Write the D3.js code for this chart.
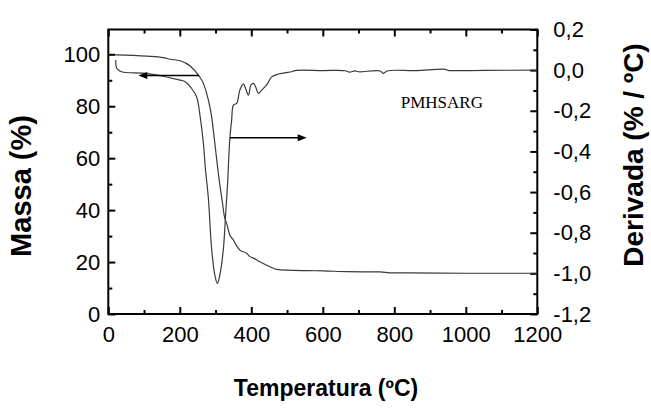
<!DOCTYPE html>
<meta charset="utf-8">
<style type="text/css">

body { margin: 0; background: #fff; }

svg { background-color: #fff; }

.axis line {
  stroke: #000;
  stroke-width: 2;
}

.axis text {
  font-family: "Liberation Sans", Arial, sans-serif;
  font-size: 22px;
  fill: #000;
}

.title {
  font-family: "Liberation Sans", Arial, sans-serif;
  font-weight: bold;
  fill: #000;
}

.curve {
  fill: none;
  stroke: #3a3a3a;
  stroke-width: 1.2;
}

.arrow {
  stroke: #000;
  stroke-width: 1.5;
}

</style>
<svg width="651" height="413"></svg>
<script src="https://cdn.jsdelivr.net/npm/d3@7"></script>
<script>

// ticks
var tempTicks  = [0, 200, 400, 600, 800, 1000, 1200];
var tempMinor  = [100, 300, 500, 700, 900, 1100];
var massTicks  = [0, 20, 40, 60, 80, 100];
var massMinor  = [10, 30, 50, 70, 90];
var derivTicks = [-1.2, -1.0, -0.8, -0.6, -0.4, -0.2, 0.0, 0.2];
var derivMinor = [-1.1, -0.9, -0.7, -0.5, -0.3, -0.1, 0.1];

// TGA curve (mass %)
var tgaTemp = [20, 107, 154, 173, 201, 229, 254, 266, 280, 289, 298, 305, 312, 319, 324,
               331, 340, 350, 355, 368, 387, 396, 406, 424, 452, 471, 499, 560, 602, 667,
               760, 793, 844, 1000, 1200];
var tgaMass = [99.8, 99.3, 98.7, 98.1, 97.5, 95.5, 91.6, 88.8, 82.4, 76.0, 65.7, 57.4, 49.7, 43.2, 38.1,
               34.9, 30.4, 28.5, 27.2, 24.6, 23.4, 22.1, 21.5, 20.1, 18.2, 17.2, 16.9, 16.7, 16.6, 16.3,
               16.2, 15.8, 15.8, 15.7, 15.7];

// DTG curve (% / oC)
var dtgTemp  = [21, 23.5, 37, 107, 201, 215, 233, 247, 257, 266, 272, 280, 289, 298, 305,
                312, 322, 328, 334, 336, 340, 345, 350, 359, 368, 378, 384, 392, 399, 406,
                412, 420, 429, 443, 457, 476, 494, 513, 522, 600, 662, 675, 690, 700, 760,
                770, 780, 860, 942, 950, 1050, 1200];
var dtgValue = [0.05, 0.009, -0.008, -0.016, -0.049, -0.057, -0.090, -0.131, -0.230, -0.361, -0.492, -0.632, -0.878, -1.009, -1.050,
                -1.009, -0.878, -0.714, -0.550, -0.467, -0.336, -0.246, -0.172, -0.164, -0.098, -0.068, -0.090, -0.123, -0.073, -0.065,
                -0.082, -0.114, -0.098, -0.073, -0.033, -0.019, -0.013, -0.008, -0.002, -0.002, -0.003, -0.010, -0.004, -0.008, -0.004,
                -0.016, -0.004, -0.002, 0.004, -0.001, -0.001, 0.0];

// annotation arrows [temp from, temp to, value]
var massArrow  = [254, 84, 91.8];
var derivArrow = [340, 555, -0.333];
var sampleName = "PMHSARG";

var svg = d3.select("svg"),
    pLeft = 108.3, pRight = 537.3, pTop = 29.5, pBottom = 314;

var x = d3.scaleLinear().domain([0, 1200]).range([pLeft, pRight]);
var yMass = d3.scaleLinear().domain([0, 100]).range([pBottom, 54.3]);
var yDeriv = d3.scaleLinear().domain([-1.2, 0.2]).range([pBottom, pTop]);

var comma = function(v){ return v.toFixed(1).replace(".", ","); };

// frame
svg.append("rect")
   .attr("x", pLeft).attr("y", pTop)
   .attr("width", pRight - pLeft).attr("height", pBottom - pTop)
   .attr("fill", "none").attr("stroke", "#000").attr("stroke-width", 2);

// bottom axis
svg.append("g").attr("class", "axis")
   .attr("transform", "translate(0," + pBottom + ")")
   .call(d3.axisBottom(x).tickValues(tempTicks).tickSize(-7).tickPadding(12)
           .tickFormat(d3.format("d")).tickSizeOuter(0));
svg.append("g").attr("class", "axis")
   .attr("transform", "translate(0," + pBottom + ")")
   .call(d3.axisBottom(x).tickValues(tempMinor).tickSize(-4).tickFormat("").tickSizeOuter(0));

// top ticks
svg.append("g").attr("class", "axis")
   .attr("transform", "translate(0," + pTop + ")")
   .call(d3.axisTop(x).tickValues(tempTicks).tickSize(-7).tickFormat("").tickSizeOuter(0));
svg.append("g").attr("class", "axis")
   .attr("transform", "translate(0," + pTop + ")")
   .call(d3.axisTop(x).tickValues(tempMinor).tickSize(-4).tickFormat("").tickSizeOuter(0));

// left axis
svg.append("g").attr("class", "axis")
   .attr("transform", "translate(" + pLeft + ",0)")
   .call(d3.axisLeft(yMass).tickValues(massTicks).tickSize(-7).tickPadding(8)
           .tickFormat(d3.format("d")).tickSizeOuter(0));
svg.append("g").attr("class", "axis")
   .attr("transform", "translate(" + pLeft + ",0)")
   .call(d3.axisLeft(yMass).tickValues(massMinor).tickSize(-4).tickFormat("").tickSizeOuter(0));

// right axis
svg.append("g").attr("class", "axis")
   .attr("transform", "translate(" + pRight + ",0)")
   .call(d3.axisRight(yDeriv).tickValues(derivTicks).tickSize(-7).tickPadding(16)
           .tickFormat(comma).tickSizeOuter(0));
svg.append("g").attr("class", "axis")
   .attr("transform", "translate(" + pRight + ",0)")
   .call(d3.axisRight(yDeriv).tickValues(derivMinor).tickSize(-4).tickFormat("").tickSizeOuter(0));

svg.selectAll(".axis .domain").remove();

// curves
var tga = d3.zip(tgaTemp, tgaMass);
var dtg = d3.zip(dtgTemp, dtgValue);

svg.append("path").attr("class", "curve")
   .attr("d", d3.line().x(function(d){ return x(d[0]); }).y(function(d){ return yMass(d[1]); })
                .curve(d3.curveMonotoneX)(tga));

svg.append("path").attr("class", "curve")
   .attr("d", d3.line().x(function(d){ return x(d[0]); }).y(function(d){ return yDeriv(d[1]); })
                .curve(d3.curveCatmullRom)(dtg));

// arrows
function arrow(x1, x2, y){
  var dir = x2 > x1 ? 1 : -1;
  svg.append("line").attr("class", "arrow")
     .attr("x1", x1).attr("y1", y).attr("x2", x2 - dir * 6).attr("y2", y);
  svg.append("path")
     .attr("d", "M" + x2 + "," + y + "L" + (x2 - dir * 9) + "," + (y - 3.5) +
                "L" + (x2 - dir * 9) + "," + (y + 3.5) + "Z")
     .attr("fill", "#000");
}
arrow(x(massArrow[0]), x(massArrow[1]), yMass(massArrow[2]));
arrow(x(derivArrow[0]), x(derivArrow[1]), yDeriv(derivArrow[2]));

// sample label
svg.append("text")
   .attr("x", x(933)).attr("y", yMass(79.2))
   .attr("text-anchor", "middle")
   .style("font-family", "'Liberation Serif', 'Times New Roman', serif")
   .style("font-size", "17px")
   .text(sampleName);

// titles
svg.append("text").attr("class", "title")
   .attr("x", 326).attr("y", 396)
   .attr("text-anchor", "middle")
   .style("font-size", "23px")
   .text("Temperatura (ºC)");

svg.append("text").attr("class", "title")
   .attr("transform", "translate(31,186) rotate(-90)")
   .attr("text-anchor", "middle")
   .style("font-size", "29px")
   .text("Massa (%)");

svg.append("text").attr("class", "title")
   .attr("transform", "translate(643,155) rotate(-90)")
   .attr("text-anchor", "middle")
   .style("font-size", "28px")
   .text("Derivada (% / ºC)");

</script>
